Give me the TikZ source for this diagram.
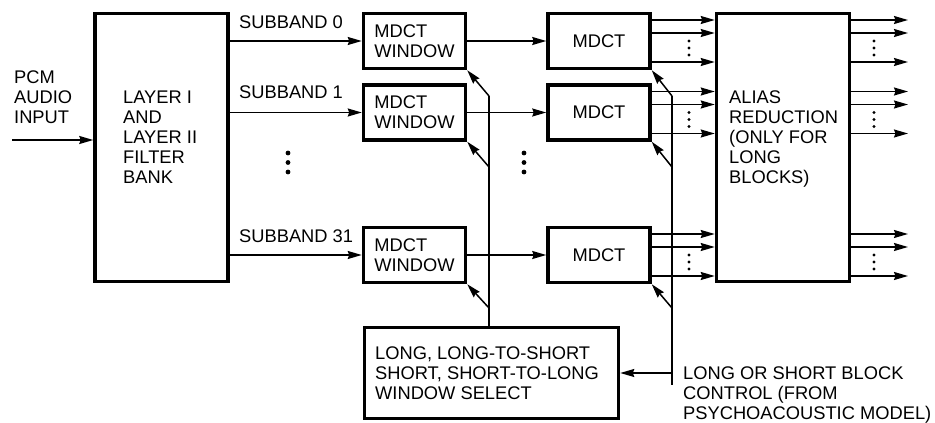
\documentclass[tikz,border=0pt]{standalone}
\usepackage{fontspec}
\setmainfont{Liberation Sans}
\usetikzlibrary{positioning, arrows.meta}

\begin{document}
\begin{tikzpicture}[x=1pt, y=-1pt, node distance=13pt,
  font=\fontsize{18.3}{20}\selectfont,
  box/.style={draw, line width=3.5pt, inner sep=0pt, align=left},
  arr/.style={-{Stealth[length=14pt, width=8pt, inset=1.5pt]}, line width=1.5pt},
  ln/.style={line width=1.5pt},
  bigdot/.style={circle, fill, inner sep=0pt, minimum size=4.8pt},
  smalldot/.style={circle, fill, inner sep=0pt, minimum size=3.4pt}]
  \useasboundingbox (0,0) rectangle (935,423);

  % boxes
  \node[box, minimum width=133pt, minimum height=268pt] (fb) at (161.5,147.5) {};
  \node[box, minimum width=102pt, minimum height=55pt] (win0) at (414.5,41) {MDCT\\WINDOW};
  \node[box, minimum width=102pt, minimum height=55pt, below=of win0] (win1) {MDCT\\WINDOW};
  \node[box, minimum width=102pt, minimum height=55pt, below=84pt of win1] (win31) {MDCT\\WINDOW};
  \node[box, minimum width=102pt, minimum height=55pt, right=79pt of win0] (mdct0) {MDCT};
  \node[box, minimum width=102pt, minimum height=55pt, right=79pt of win1] (mdct1) {MDCT};
  \node[box, minimum width=102pt, minimum height=55pt, right=79pt of win31] (mdct31) {MDCT};
  \node[box, minimum width=133pt, minimum height=268pt] (alias) at (783,147.5) {};
  \node[box, minimum width=254pt, minimum height=91pt] (sel) at (491.5,373) {};

  % texts (base = last line)
  \node[anchor=base west, align=left, inner sep=0pt] (pcm) at (14,123) {PCM\\AUDIO\\INPUT};
  \node[anchor=base west, align=left, inner sep=0pt] (fbtext) at (123,183) {LAYER I\\AND\\LAYER II\\FILTER\\BANK};
  \node[anchor=base west, align=left, inner sep=0pt] (aliastext) at (729,183) {ALIAS\\REDUCTION\\(ONLY FOR\\LONG\\BLOCKS)};
  \node[anchor=base west, align=left, inner sep=0pt] (seltext) at (375,399) {LONG, LONG-TO-SHORT\\SHORT, SHORT-TO-LONG\\WINDOW SELECT};
  \node[anchor=base west, align=left, inner sep=0pt] (ctrl) at (683,419) {LONG OR SHORT BLOCK\\CONTROL (FROM\\PSYCHOACOUSTIC MODEL)};
  \node[anchor=base west, inner sep=0pt] (sb0) at (239,28) {SUBBAND 0};
  \node[anchor=base west, inner sep=0pt] (sb1) at (239,98) {SUBBAND 1};
  \node[anchor=base west, inner sep=0pt] (sb31) at (239,242) {SUBBAND 31};

  % input and subbands
  \coordinate (pcmin) at (12,140);
  \draw[arr] (pcmin) -- (pcmin -| fb.west);
  \foreach \r in {0,1,31} {
    \draw[arr] (fb.east |- win\r.west) -- (win\r.west);
    \draw[arr] (win\r.east) -- (mdct\r.west);
  }
  \foreach \y in {153,162.5,172} {
    \node[bigdot] at (288,\y) {};
    \node[bigdot] at (524,\y) {};
  }

  % mdct outputs
  \coordinate (outx) at (908,0);
  \foreach \r in {0,1,31} {
    \foreach \dy in {21,8,-21} {
      \coordinate (p) at ([yshift=\dy pt]mdct\r.east);
      \draw[arr] (p) -- (p -| alias.west);
      \draw[arr] (alias.east |- p) -- (outx |- p);
    }
    \foreach \dy in {0,-7,-14} {
      \node[smalldot] at ([yshift=\dy pt]mdct\r.east -| 689,0) {};
      \node[smalldot] at ([yshift=\dy pt]mdct\r.east -| 874,0) {};
    }
  }

  % window select lines
  \coordinate (c1a) at (489,96);
  \coordinate (c1b) at (489,167);
  \coordinate (c1c) at (489,308);
  \draw[ln] (c1a) -- (c1a |- sel.north);
  \draw[arr] (c1a) -- (win0.south east);
  \draw[arr] (c1b) -- (win1.south east);
  \draw[arr] (c1c) -- (win31.south east);

  % block control lines
  \coordinate (c2a) at (672,96);
  \coordinate (c2b) at (672,167);
  \coordinate (c2c) at (672,308);
  \coordinate (c2d) at (672,385);
  \draw[ln] (c2a) -- (c2d);
  \draw[arr] (c2a) -- (mdct0.south east);
  \draw[arr] (c2b) -- (mdct1.south east);
  \draw[arr] (c2c) -- (mdct31.south east);
  \draw[arr] (c2d |- sel.east) -- (sel.east);
\end{tikzpicture}
\end{document}
